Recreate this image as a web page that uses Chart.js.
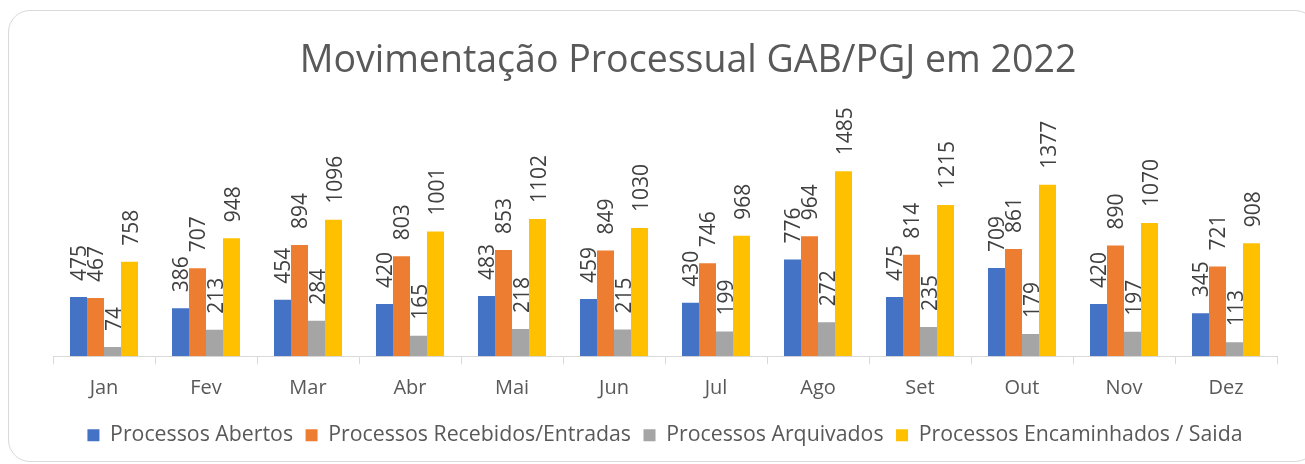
<!DOCTYPE html>
<html>
<head>
<meta charset="utf-8">
<script src="https://cdn.jsdelivr.net/npm/chart.js@4"></script>
<style>
  html, body { margin: 0; padding: 0; background: #fff; overflow: hidden; }
  #frame {
    position: absolute; left: 8px; top: 10px; right: -12px; bottom: 2px;
    border: 1px solid #d9d9d9; border-radius: 22px;
  }
  #wrap { position: absolute; left: 0; top: 0; width: 1305px; height: 464px; }
</style>
</head>
<body>
<div id="frame"></div>
<div id="wrap"><canvas id="myMovChart"></canvas></div>
<script>
const titulo = 'Movimentação Processual GAB/PGJ em 2022';
const meses = ['Jan', 'Fev', 'Mar', 'Abr', 'Mai', 'Jun', 'Jul', 'Ago', 'Set', 'Out', 'Nov', 'Dez'];
const abertos = [475, 386, 454, 420, 483, 459, 430, 776, 475, 709, 420, 345];
const recebidos = [467, 707, 894, 803, 853, 849, 746, 964, 814, 861, 890, 721];
const arquivados = [74, 213, 284, 165, 218, 215, 199, 272, 235, 179, 197, 113];
const encaminhados = [758, 948, 1096, 1001, 1102, 1030, 968, 1485, 1215, 1377, 1070, 908];

const fonte = '"Open Sans", "Noto Sans", sans-serif';

// titre + etiquettes verticales au-dessus des barres
const rotuloPlugin = {
    id: 'rotulos',
    afterDatasetsDraw(chart) {
        const ctx = chart.ctx;
        const area = chart.chartArea;
        ctx.save();
        ctx.fillStyle = '#595959';
        ctx.font = '37.5px ' + fonte;
        ctx.textAlign = 'center';
        ctx.textBaseline = 'alphabetic';
        ctx.fillText(titulo, (area.left + area.right) / 2 + 23, 72);

        ctx.fillStyle = '#404040';
        ctx.font = '21px ' + fonte;
        ctx.textAlign = 'left';
        chart.data.datasets.forEach((ds, i) => {
            const meta = chart.getDatasetMeta(i);
            meta.data.forEach((bar, j) => {
                ctx.save();
                ctx.translate(bar.x, bar.y - 16);
                ctx.rotate(-Math.PI / 2);
                ctx.fillText(String(ds.data[j]), 0, 8);
                ctx.restore();
            });
        });
        ctx.restore();
    }
};

const ctx = document.getElementById('myMovChart').getContext('2d');
const myMovChart = new Chart(ctx, {
    type: 'bar',
    data: {
        labels: meses,
        datasets: [
            { label: 'Processos Abertos', data: abertos, backgroundColor: '#4472C4' },
            { label: 'Processos Recebidos/Entradas', data: recebidos, backgroundColor: '#ED7D31' },
            { label: 'Processos Arquivados', data: arquivados, backgroundColor: '#A5A5A5' },
            { label: 'Processos Encaminhados / Saida', data: encaminhados, backgroundColor: '#FFC000' }
        ]
    },
    options: {
        responsive: true,
        maintainAspectRatio: false,
        animation: false,
        categoryPercentage: 0.667,
        barPercentage: 1,
        layout: { padding: { top: 157, left: 53, right: 28, bottom: 8 } },
        scales: {
            x: {
                grid: {
                    display: true, drawOnChartArea: false, drawTicks: true,
                    tickLength: 8, color: '#d9d9d9', offset: true
                },
                border: { display: true, color: '#d9d9d9', width: 1 },
                ticks: { color: '#595959', font: { family: fonte, size: 20, lineHeight: 1 }, padding: 14 }
            },
            y: { display: false, min: 0, max: 1600 }
        },
        plugins: {
            legend: {
                position: 'bottom',
                labels: {
                    color: '#595959',
                    font: { family: fonte, size: 21.3 },
                    boxWidth: 12, boxHeight: 12, padding: 12.5
                }
            },
            tooltip: { enabled: false }
        }
    },
    plugins: [rotuloPlugin]
});
</script>
</body>
</html>
